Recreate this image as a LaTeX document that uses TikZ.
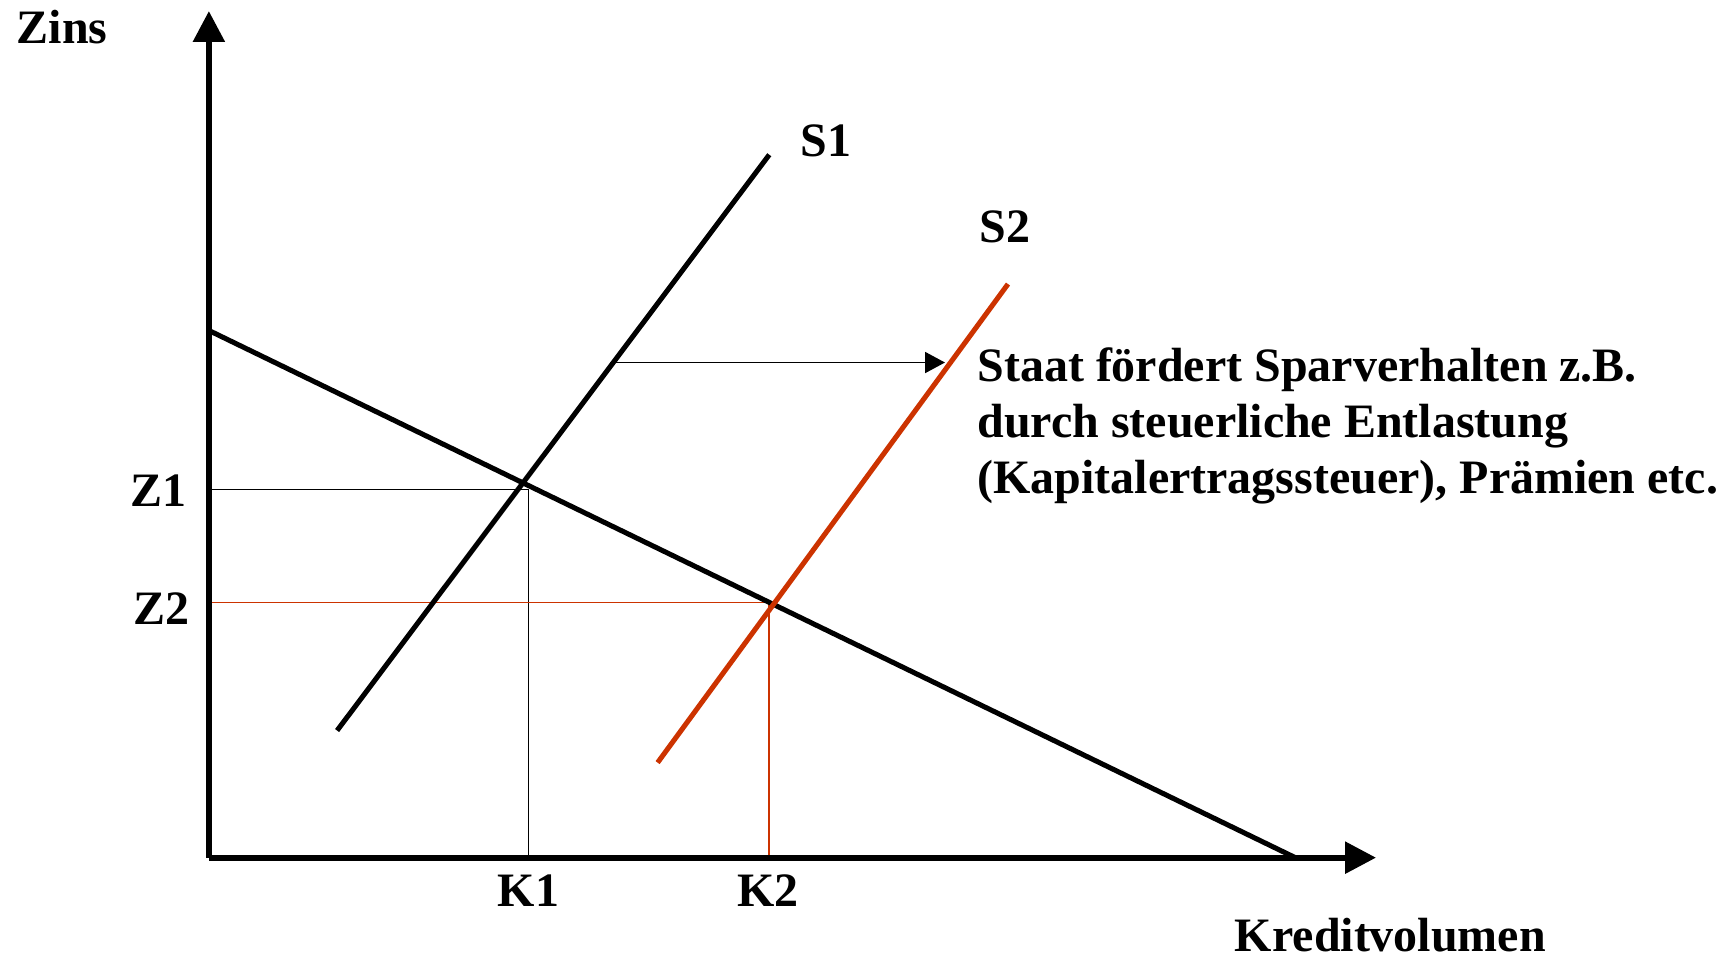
\documentclass[tikz,border=0pt]{standalone}
\usepackage{fontspec}
\setmainfont{Liberation Serif}
\usetikzlibrary{arrows.meta,positioning}
\definecolor{shiftred}{HTML}{CC3300}
\tikzset{axisline/.style={line width=3pt, -{Triangle[length=5.6mm,width=5.6mm]}},
  curve/.style={line width=2.6pt},
  guide/.style={line width=0.8pt},
  shiftarrow/.style={line width=0.9pt, -{Triangle[length=3.6mm,width=3.8mm]}},
  lbl/.style={font=\fontsize{24.7}{29}\selectfont\bfseries, inner sep=0pt, anchor=base west}}

\begin{document}
\begin{tikzpicture}[x=0.2mm,y=-0.2mm]
  \useasboundingbox (0,0) rectangle (1568,870);
  % axes
  \coordinate (O) at (189,776);
  \coordinate (ytip) at (189,10);
  \coordinate (xtip) at (1245,776);
  % equilibrium points
  \coordinate (z1) at (189,443);
  \coordinate (e1) at (478,443);
  \coordinate (k1) at (478,776);
  \coordinate (z2) at (189,545);
  \coordinate (e2) at (696,545);
  \coordinate (k2) at (696,776);
  % curves
  \coordinate (dstart) at (189,299);
  \coordinate (dend) at (1172,776);
  \coordinate (s1low) at (305,661);
  \coordinate (s1high) at (696,140);
  \coordinate (s2low) at (595,690);
  \coordinate (s2high) at (912,257);
  \coordinate (shiftfrom) at (552,328);
  \coordinate (shiftto) at (855,328);

  \draw[guide] (z1) -- (e1) -- (k1);
  \draw[guide, shiftred] (z2) -- (e2) -- (k2);
  \draw[curve] (dstart) -- (dend);
  \draw[curve] (s1low) -- (s1high);
  \draw[curve, shiftred] (s2low) -- (s2high);
  \draw[shiftarrow] (shiftfrom) -- (shiftto);
  \draw[axisline] (O) -- (ytip);
  \draw[axisline] (O) -- (xtip);

  \node[lbl] (zins) at (15,39) {Zins};
  \node[lbl] (kv) at (1117,861) {Kreditvolumen};
  \node[lbl] (s1) at (724,142) {S1};
  \node[lbl] (s2) at (886,219) {S2};
  \node[lbl] (lz1) at (118,458) {Z1};
  \node[lbl] (lz2) at (120,565) {Z2};
  \node[lbl] (lk1) at (450,820) {K1};
  \node[lbl] (lk2) at (667,820) {K2};
  \node[lbl, align=left, anchor=north west] (note) at (884,314)
    {Staat fördert Sparverhalten z.B.\\durch steuerliche Entlastung\\(Kapitalertragssteuer), Prämien etc.};
\end{tikzpicture}
\end{document}
